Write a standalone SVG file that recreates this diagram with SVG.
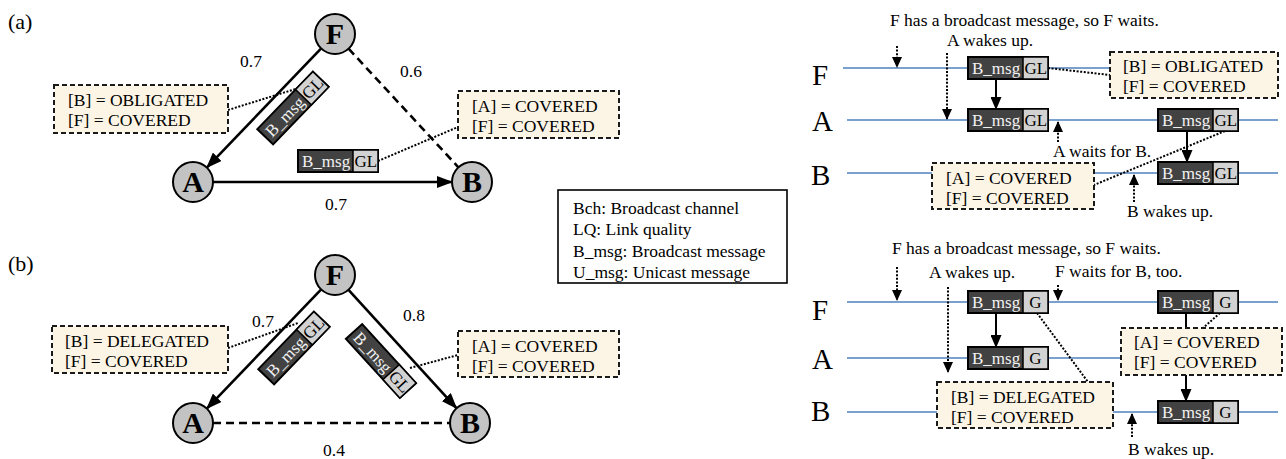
<svg xmlns="http://www.w3.org/2000/svg" width="1286" height="459" viewBox="0 0 1286 459">
  <style>
    text { font-family: "Liberation Serif", "Times New Roman", serif; font-size: 17.5px; fill: #000; }
    .panel { font-size: 22px; }
    .lane-name { font-size: 29px; }
    .node circle { fill: #c3c3c3; stroke: #000; stroke-width: 2; }
    .node text { font-size: 30px; font-weight: bold; text-anchor: middle; }
    .note rect { fill: #fcf5e6; stroke: #1a1a1a; stroke-width: 2; stroke-dasharray: 5 3; }
    .legend rect { fill: #fff; stroke: #000; stroke-width: 1.6; }
    .blk .b { fill: #424242; stroke: #000; stroke-width: 2; }
    .blk .g { fill: #d2d2d2; stroke: #000; stroke-width: 1.5; }
    .blk .bt { fill: #f2f2f2; font-size: 17px; }
    .blk .gt { font-size: 17px; }
    .lane { stroke: #4f81bd; stroke-width: 1.6; fill: none; }
    .edge { stroke: #000; stroke-width: 2.6; fill: none; }
    .dash { stroke-dasharray: 8 5; }
    .solid { stroke: #000; stroke-width: 2; fill: none; }
    .dot { stroke: #000; stroke-width: 2; stroke-dasharray: 2 1.6; fill: none; }
  </style>
  <defs>
    <marker id="ah" markerUnits="userSpaceOnUse" markerWidth="16" markerHeight="12" refX="15" refY="6" orient="auto">
      <path d="M0,0 L16,6 L0,12 z" fill="#000"/>
    </marker>
    <marker id="ahs" markerUnits="userSpaceOnUse" markerWidth="13" markerHeight="11" refX="12" refY="5.5" orient="auto">
      <path d="M0,0 L13,5.5 L0,11 z" fill="#000"/>
    </marker>
    <marker id="ahd" markerUnits="userSpaceOnUse" markerWidth="11" markerHeight="10" refX="10" refY="5" orient="auto">
      <path d="M0,0 L11,5 L0,10 z" fill="#000"/>
    </marker>
    <!-- broadcast block: message part + GL/G tail, origin at top-left -->
    <g id="blkGL" class="blk">
      <rect class="b" x="0" y="0" width="80" height="22"/>
      <rect class="g" x="55" y="0" width="25" height="22"/>
      <text class="bt" x="4" y="17">B_msg</text>
      <text class="gt" x="56.5" y="17">GL</text>
    </g>
    <g id="blkG" class="blk">
      <rect class="b" x="0" y="0" width="80" height="22"/>
      <rect class="g" x="55" y="0" width="25" height="22"/>
      <text class="bt" x="4" y="17">B_msg</text>
      <text class="gt" x="67.5" y="17" text-anchor="middle">G</text>
    </g>
  </defs>

  <!-- panel labels -->
  <text class="panel" x="8" y="29">(a)</text>
  <text class="panel" x="8" y="271">(b)</text>

  <!-- ===== connectors ===== -->
  <g id="connectors">
    <!-- (a) graph -->
    <line class="edge" x1="321.2" y1="48.4" x2="206.8" y2="167.6" marker-end="url(#ah)"/>
    <line class="edge" x1="213" y1="182" x2="452" y2="182" marker-end="url(#ah)"/>
    <line class="edge dash" x1="348.6" y1="48.7" x2="458.4" y2="167.3"/>
    <line class="dot" x1="228" y1="110" x2="302" y2="87"/>
    <line class="dot" x1="378" y1="161" x2="458" y2="127"/>
    <!-- (b) graph -->
    <line class="edge" x1="321.2" y1="289.4" x2="206.8" y2="408.6" marker-end="url(#ah)"/>
    <line class="edge" x1="348.5" y1="289.8" x2="456.5" y2="408.2" marker-end="url(#ah)"/>
    <line class="edge dash" x1="213" y1="423" x2="450" y2="423"/>
    <line class="dot" x1="228" y1="348" x2="298" y2="323"/>
    <line class="dot" x1="410" y1="368" x2="458" y2="355"/>

    <!-- (a) timeline lanes -->
    <path class="lane" d="M843,68 H968 M1048,68 H1110"/>
    <path class="lane" d="M847,120 H968 M1048,120 H1158 M1238,120 H1278"/>
    <path class="lane" d="M847,173 H932 M1094,173 H1158 M1238,173 H1278"/>
    <!-- (a) timeline arrows -->
    <line class="dot" x1="897" y1="46" x2="897" y2="67" marker-end="url(#ahd)"/>
    <line class="dot" x1="947" y1="53" x2="947" y2="119" marker-end="url(#ahd)"/>
    <line class="dot" x1="1058" y1="142" x2="1058" y2="122" marker-end="url(#ahd)"/>
    <line class="dot" x1="1134" y1="202" x2="1134" y2="175" marker-end="url(#ahd)"/>
    <line class="solid" x1="996" y1="79" x2="996" y2="109" marker-end="url(#ahs)"/>
    <line class="solid" x1="1187" y1="131" x2="1187" y2="162" marker-end="url(#ahs)"/>
    <line class="dot" x1="1048" y1="68" x2="1110" y2="75"/>
    <line class="dot" x1="1225" y1="131" x2="1094" y2="185"/>

    <!-- (b) timeline lanes -->
    <path class="lane" d="M847,302 H968 M1048,302 H1158 M1238,302 H1278"/>
    <path class="lane" d="M847,358 H968 M1048,358 H1121"/>
    <path class="lane" d="M847,412 H937 M1113,412 H1158 M1238,412 H1278"/>
    <!-- (b) timeline arrows -->
    <line class="dot" x1="897" y1="267" x2="897" y2="300" marker-end="url(#ahd)"/>
    <line class="dot" x1="948" y1="287" x2="948" y2="372" marker-end="url(#ahd)"/>
    <line class="dot" x1="1058" y1="285" x2="1058" y2="300" marker-end="url(#ahd)"/>
    <line class="dot" x1="1132" y1="437" x2="1132" y2="414" marker-end="url(#ahd)"/>
    <line class="solid" x1="996" y1="313" x2="996" y2="347" marker-end="url(#ahs)"/>
    <line class="solid" x1="1186" y1="313" x2="1186" y2="328"/>
    <line class="solid" x1="1186" y1="375" x2="1186" y2="401" marker-end="url(#ahs)"/>
    <line class="dot" x1="1037" y1="313" x2="1088" y2="382"/>
    <line class="dot" x1="1220" y1="313" x2="1203" y2="328"/>
  </g>

  <!-- ===== (a) graph ===== -->
  <g id="a-F" class="node"><circle cx="335" cy="34" r="20"/><text x="335" y="44">F</text></g>
  <g id="a-A" class="node"><circle cx="193" cy="182" r="20"/><text x="193" y="192">A</text></g>
  <g id="a-B" class="node"><circle cx="472" cy="182" r="20"/><text x="472" y="192">B</text></g>
  <g id="a-lq">
    <text x="240" y="67">0.7</text>
    <text x="400" y="77">0.6</text>
    <text x="325" y="210">0.7</text>
  </g>
  <g id="a-noteL" class="note">
    <rect x="54" y="85" width="174" height="48"/>
    <text x="68" y="106">[B] = OBLIGATED</text>
    <text x="68" y="126">[F] = COVERED</text>
  </g>
  <g id="a-noteR" class="note">
    <rect x="458" y="91" width="161" height="47"/>
    <text x="472" y="112">[A] = COVERED</text>
    <text x="472" y="132">[F] = COVERED</text>
  </g>
  <g id="a-msgFA"><use href="#blkGL" transform="translate(293,108) rotate(-46) translate(-40,-11)"/></g>
  <g id="a-msgAB"><use href="#blkGL" transform="translate(298,150)"/></g>

  <!-- ===== (b) graph ===== -->
  <g id="b-F" class="node"><circle cx="335" cy="275" r="20"/><text x="335" y="285">F</text></g>
  <g id="b-A" class="node"><circle cx="193" cy="423" r="20"/><text x="193" y="433">A</text></g>
  <g id="b-B" class="node"><circle cx="470" cy="423" r="20"/><text x="470" y="433">B</text></g>
  <g id="b-lq">
    <text x="252" y="327">0.7</text>
    <text x="403" y="321">0.8</text>
    <text x="323" y="456">0.4</text>
  </g>
  <g id="b-noteL" class="note">
    <rect x="52" y="326" width="176" height="47"/>
    <text x="65" y="347">[B] = DELEGATED</text>
    <text x="65" y="367">[F] = COVERED</text>
  </g>
  <g id="b-noteR" class="note">
    <rect x="458" y="331" width="161" height="46"/>
    <text x="472" y="352">[A] = COVERED</text>
    <text x="472" y="372">[F] = COVERED</text>
  </g>
  <g id="b-msgFA"><use href="#blkGL" transform="translate(294,348) rotate(-46) translate(-40,-11)"/></g>
  <g id="b-msgFB"><use href="#blkGL" transform="translate(381,361) rotate(47.6) translate(-40,-11)"/></g>

  <!-- ===== legend ===== -->
  <g id="legend" class="legend">
    <rect x="558" y="190" width="229" height="93"/>
    <text x="573" y="214">Bch: Broadcast channel</text>
    <text x="573" y="235">LQ: Link quality</text>
    <text x="573" y="257">B_msg: Broadcast message</text>
    <text x="573" y="278">U_msg: Unicast message</text>
  </g>

  <!-- ===== (a) timeline ===== -->
  <g id="ta-lanes">
    <text class="lane-name" x="812" y="85">F</text>
    <text class="lane-name" x="812" y="131">A</text>
    <text class="lane-name" x="811" y="185">B</text>
  </g>
  <g id="ta-notes-text">
    <text x="890" y="26">F has a broadcast message, so F waits.</text>
    <text x="947" y="46">A wakes up.</text>
    <text x="1053" y="157">A waits for B.</text>
    <text x="1127" y="217">B wakes up.</text>
  </g>
  <g id="ta-F1"><use href="#blkGL" transform="translate(968,57)"/></g>
  <g id="ta-A1"><use href="#blkGL" transform="translate(968,109)"/></g>
  <g id="ta-A2"><use href="#blkGL" transform="translate(1158,109)"/></g>
  <g id="ta-B1"><use href="#blkGL" transform="translate(1158,162)"/></g>
  <g id="ta-noteF" class="note">
    <rect x="1110" y="52" width="168" height="46"/>
    <text x="1123" y="72">[B] = OBLIGATED</text>
    <text x="1123" y="92">[F] = COVERED</text>
  </g>
  <g id="ta-noteB" class="note">
    <rect x="932" y="163" width="162" height="46"/>
    <text x="946" y="184">[A] = COVERED</text>
    <text x="946" y="204">[F] = COVERED</text>
  </g>

  <!-- ===== (b) timeline ===== -->
  <g id="tb-lanes">
    <text class="lane-name" x="812" y="320">F</text>
    <text class="lane-name" x="812" y="369">A</text>
    <text class="lane-name" x="811" y="421">B</text>
  </g>
  <g id="tb-notes-text">
    <text x="892" y="254">F has a broadcast message, so F waits.</text>
    <text x="929" y="278">A wakes up.</text>
    <text x="1055" y="277">F waits for B, too.</text>
    <text x="1128" y="455">B wakes up.</text>
  </g>
  <g id="tb-F1"><use href="#blkG" transform="translate(968,291)"/></g>
  <g id="tb-F2"><use href="#blkG" transform="translate(1158,291)"/></g>
  <g id="tb-A1"><use href="#blkG" transform="translate(968,347)"/></g>
  <g id="tb-B1"><use href="#blkG" transform="translate(1158,401)"/></g>
  <g id="tb-noteB" class="note">
    <rect x="937" y="382" width="176" height="46"/>
    <text x="951" y="403">[B] = DELEGATED</text>
    <text x="951" y="423">[F] = COVERED</text>
  </g>
  <g id="tb-noteA" class="note">
    <rect x="1121" y="328" width="161" height="47"/>
    <text x="1134" y="348">[A] = COVERED</text>
    <text x="1134" y="368">[F] = COVERED</text>
  </g>
</svg>
